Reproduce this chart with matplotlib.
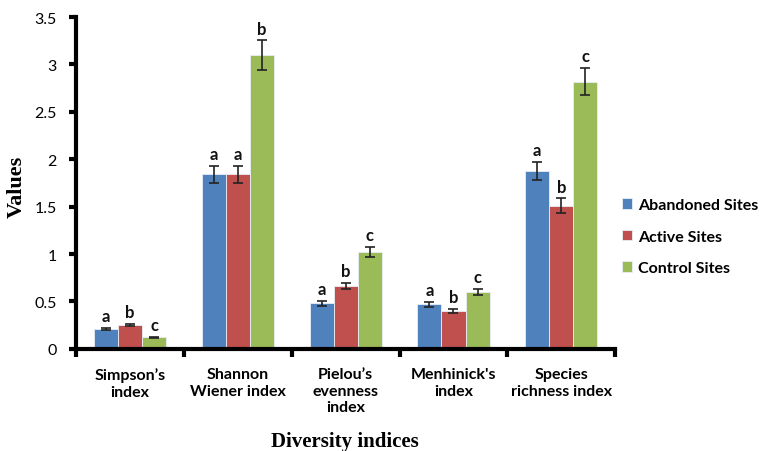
import numpy as np
import matplotlib.pyplot as plt

categories = ["Simpson\u2019s\nindex", "Shannon\nWiener index", "Pielou\u2019s\nevenness\nindex",
              "Menhinick's\nindex", "Species\nrichness index"]
series_names = ["Abandoned Sites", "Active Sites", "Control Sites"]

abandoned = [0.21, 1.84, 0.48, 0.47, 1.88]
active = [0.25, 1.84, 0.66, 0.40, 1.51]
control = [0.12, 3.10, 1.02, 0.60, 2.82]

abandoned_err = [0.010, 0.093, 0.028, 0.026, 0.095]
active_err = [0.010, 0.093, 0.033, 0.020, 0.077]
control_err = [0.005, 0.155, 0.055, 0.035, 0.143]

abandoned_letters = ["a", "a", "a", "a", "a"]
active_letters = ["b", "a", "b", "b", "b"]
control_letters = ["c", "b", "c", "c", "c"]

colors = ["#4F81BD", "#C0504D", "#9BBB59"]

plt.rcParams['font.family'] = ['Lato', 'DejaVu Sans']

fig = plt.figure(figsize=(7.69, 4.52), dpi=100)
ax = fig.add_axes([0.099, 0.226, 0.701, 0.734])

x = np.arange(len(categories))
width = 0.223
values = [abandoned, active, control]
errors = [abandoned_err, active_err, control_err]
letters = [abandoned_letters, active_letters, control_letters]

for i, (vals, errs, lets) in enumerate(zip(values, errors, letters)):
    pos = x + (i - 1) * width
    ax.bar(pos, vals, width, color=colors[i], edgecolor="#e8eef6", linewidth=0.6,
           label=series_names[i], zorder=2)
    ax.errorbar(pos, vals, yerr=errs, fmt="none", ecolor="#222222", elinewidth=1.2,
                capsize=3.5, capthick=1.2, zorder=3)
    # significance letters sit just above each error bar
    for p, v, e, t in zip(pos, vals, errs, lets):
        ax.text(p, v + e + 0.04, t, ha="center", va="bottom", fontsize=12,
                fontweight="bold", color="#111111")

ax.set_xlim(-0.5, len(categories) - 0.5)
ax.set_ylim(0, 3.5)
ax.set_yticks(np.arange(0, 3.51, 0.5))
ax.set_yticklabels(["0", "0.5", "1", "1.5", "2", "2.5", "3", "3.5"])
ax.set_xticks(x)
ax.set_xticklabels(categories, fontweight="bold", fontsize=11.5, linespacing=1.25, va="top")
# tick marks between the groups
ax.set_xticks(np.arange(-0.5, len(categories), 1.0), minor=True)
ax.tick_params(axis="x", which="major", length=0, pad=13)
ax.tick_params(axis="x", which="minor", length=6, width=3, direction="out")
ax.tick_params(axis="y", which="major", length=5, width=3, direction="out", labelsize=11.5,
               pad=9)

for side in ["top", "right"]:
    ax.spines[side].set_visible(False)
ax.spines["left"].set_linewidth(3)
ax.spines["bottom"].set_linewidth(3)

ax.set_ylabel("Values", family="Liberation Serif", fontweight="bold", fontsize=16)
ax.yaxis.set_label_coords(-0.091, 0.49)
fig.text(0.449, 0.022, "Diversity indices", family="Liberation Serif", fontweight="bold",
         fontsize=15, ha="center", va="center")

ax.legend(loc="center left", bbox_to_anchor=(0.79, 0.474), bbox_transform=fig.transFigure,
          frameon=False, prop={"weight": "bold", "size": 11.5}, handlelength=0.65,
          handleheight=0.65, handletextpad=0.35, labelspacing=1.1)

fig.savefig("out.png", dpi=100)
